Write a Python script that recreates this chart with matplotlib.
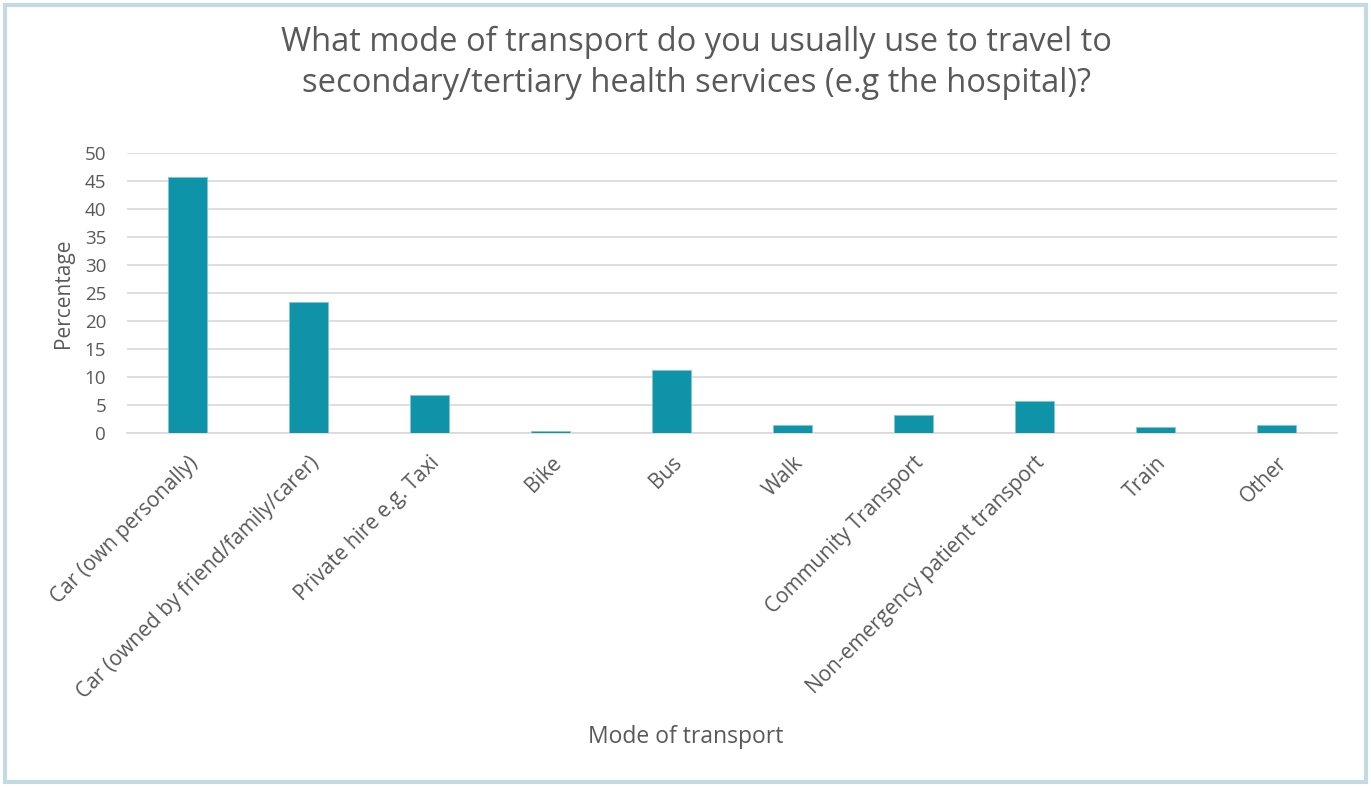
import matplotlib.pyplot as plt
from matplotlib.patches import Rectangle

categories = [
    "Car (own personally)",
    "Car (owned by friend/family/carer)",
    "Private hire e.g. Taxi",
    "Bike",
    "Bus",
    "Walk",
    "Community Transport",
    "Non-emergency patient transport",
    "Train",
    "Other",
]
percentages = [45.8, 23.4, 6.8, 0.4, 11.2, 1.45, 3.2, 5.8, 1.0, 1.4]
yticks = [0, 5, 10, 15, 20, 25, 30, 35, 40, 45, 50]

plt.rcParams["font.family"] = ["Open Sans", "DejaVu Sans"]
text_color = "#595959"

fig = plt.figure(figsize=(13.71, 7.87), dpi=100)
ax = fig.add_axes([127 / 1371, 1 - 433 / 787, 1210 / 1371, 280 / 787])

ax.bar(range(len(categories)), percentages, width=0.32, color="#0e93a8",
       edgecolor="#7fc6d3", linewidth=0.6, zorder=3)

ax.set_xlim(-0.5, len(categories) - 0.5)
ax.set_ylim(0, 50)
ax.set_yticks(yticks)
ax.set_xticks(range(len(categories)))
ax.set_xticklabels(categories, rotation=45, ha="right", rotation_mode="anchor",
                   fontsize=15, color=text_color)
ax.tick_params(axis="y", length=0, labelsize=13.5, labelcolor=text_color, pad=15)
ax.tick_params(axis="x", length=0, pad=14)
ax.grid(axis="y", color="#d9d9d9", linewidth=1.2, zorder=0)
for s in ["top", "right", "left"]:
    ax.spines[s].set_visible(False)
ax.spines["bottom"].set_color("#d9d9d9")
ax.spines["bottom"].set_linewidth(1.2)

ax.set_ylabel("Percentage", fontsize=15, color=text_color, labelpad=8)
fig.text(686 / 1371, 1 - 737 / 787, "Mode of transport", ha="center",
         va="center", fontsize=16.5, color=text_color)
fig.text(696 / 1371, 1 - 63 / 787,
         "What mode of transport do you usually use to travel to\n"
         "secondary/tertiary health services (e.g the hospital)?",
         ha="center", va="center", fontsize=23.5, color=text_color, linespacing=1.35)

# light frame round the chart
fig.patches.append(Rectangle((5 / 1371, 5 / 787), 1361 / 1371, 777 / 787,
                             transform=fig.transFigure, fill=False,
                             edgecolor="#c3dae2", linewidth=3))

plt.savefig("out.png", dpi=100)
